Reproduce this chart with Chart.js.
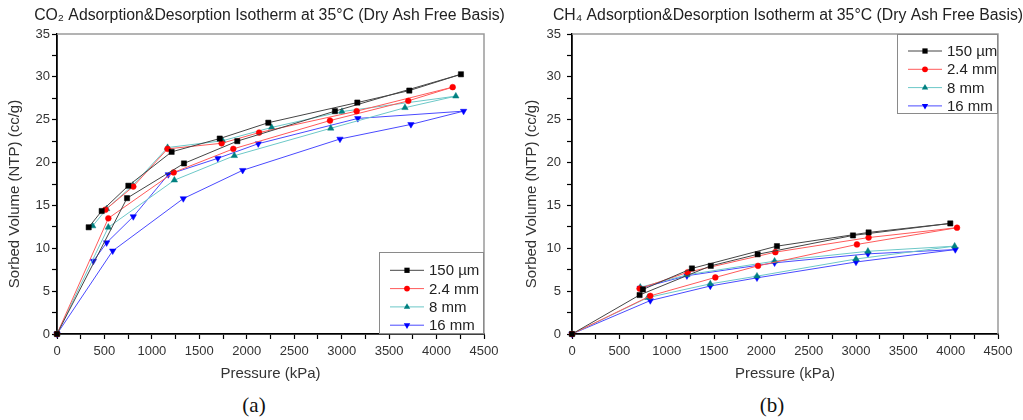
<!DOCTYPE html>
<html>
<head>
<meta charset="utf-8">
<script src="https://cdn.jsdelivr.net/npm/chart.js@4.4.1/dist/chart.umd.min.js"></script>
<style>
  body { margin: 0; background: #fff; width: 1023px; height: 420px; position: relative; overflow: hidden; }
  .panel { position: absolute; top: 0; }
  .cap { position: absolute; top: 393px; font-family: "Liberation Serif", "Times New Roman", serif; font-size: 21px; color: #111; transform: translateX(-50%); }
</style>
</head>
<body>
<div class="panel" style="left:0"><canvas id="co2Chart" width="512" height="390"></canvas></div>
<div class="panel" style="left:511px"><canvas id="ch4Chart" width="512" height="390"></canvas></div>
<div class="cap" style="left:254px">(a)</div>
<div class="cap" style="left:772px">(b)</div>
<script>
// sample names (legend)
const samples = ['150 µm', '2.4 mm', '8 mm', '16 mm'];

// CO2 - points in measuring order: adsorption up, then desorption down
const co2P_150 = [0, 738, 1338, 1900, 2929, 4257, 3713, 3165, 2227, 1715, 1208, 752, 471, 334];
const co2V_150 = [0, 15.85, 19.9, 22.5, 26.0, 30.3, 28.4, 27.0, 24.65, 22.8, 21.25, 17.3, 14.35, 12.45];
const co2P_2_4 = [0, 541, 1230, 1858, 2877, 3702, 4170, 3158, 2130, 1735, 1165, 804, 510];
const co2V_2_4 = [0, 13.5, 18.85, 21.6, 24.9, 27.2, 28.8, 26.0, 23.5, 22.25, 21.6, 17.2, 14.5];
const co2P_8 = [0, 541, 1237, 1869, 2885, 3667, 4203, 3003, 2262, 1746, 1165, 800, 523, 376];
const co2V_8 = [0, 12.45, 17.95, 20.8, 24.0, 26.4, 27.75, 25.95, 24.1, 22.55, 21.75, 17.35, 14.6, 12.6];
const co2P_16 = [0, 587, 1331, 1957, 2982, 3730, 4285, 3170, 2121, 1695, 1173, 804, 523, 383];
const co2V_16 = [0, 9.7, 15.8, 19.1, 22.75, 24.45, 26.0, 25.15, 22.2, 20.5, 18.6, 13.7, 10.65, 8.5];

// CH4
const ch4P_150 = [0, 714, 1466, 1961, 2968, 3996, 3133, 2165, 1267, 749];
const ch4V_150 = [0, 4.55, 7.95, 9.3, 11.5, 12.9, 11.85, 10.25, 7.65, 5.2];
const ch4P_2_4 = [0, 827, 1514, 1965, 3010, 4067, 3133, 2148, 1221, 714];
const ch4V_2_4 = [0, 4.45, 6.6, 7.95, 10.45, 12.4, 11.25, 9.55, 7.2, 5.3];
const ch4P_8 = [0, 802, 1461, 1954, 3000, 4042, 3126, 2140, 1214, 721];
const ch4V_8 = [0, 4.25, 5.85, 6.75, 8.75, 10.25, 9.65, 8.5, 6.9, 5.45];
const ch4P_16 = [0, 827, 1461, 1954, 3000, 4049, 3126, 2140, 1214, 721];
const ch4V_16 = [0, 3.9, 5.6, 6.55, 8.4, 9.85, 9.35, 8.3, 6.8, 5.35];

const lineColors = ['#454545', '#ff5a5a', '#6cc8c8', '#4a4aff'];
const markColors = ['#000000', '#ff0000', '#008080', '#0000ff'];
const markStyles = ['rect', 'circle', 'triangle', 'triangle'];
const markRot = [0, 0, 0, 180];
const FONT = 'Arial, "Liberation Sans", sans-serif';
const Y_TITLE = 'Sorbed Volume (NTP) (cc/g)';

function pts(px, vy) { return px.map((p, i) => ({x: p, y: vy[i]})); }

function makeSets(list) {
  return list.map((s, i) => ({
    label: samples[i],
    data: pts(s[0], s[1]),
    showLine: true,
    borderColor: lineColors[i],
    borderWidth: 1,
    pointStyle: markStyles[i],
    rotation: markRot[i],
    pointRadius: i == 1 ? 2.9 : 3.7,
    pointBackgroundColor: markColors[i],
    pointBorderColor: markColors[i],
    pointBorderWidth: 0.5,
    clip: false
  }));
}

function drawMark(ctx, style, rot, x, y, r, col) {
  ctx.save();
  ctx.fillStyle = col;
  ctx.translate(x, y);
  ctx.rotate(rot * Math.PI / 180);
  ctx.beginPath();
  if (style == 'rect') {
    const h = r * Math.SQRT1_2;
    ctx.rect(-h, -h, 2 * h, 2 * h);
  } else if (style == 'circle') {
    ctx.arc(0, 0, r, 0, Math.PI * 2);
  } else {
    ctx.moveTo(0, -r);
    ctx.lineTo(r * 0.866, r * 0.5);
    ctx.lineTo(-r * 0.866, r * 0.5);
    ctx.closePath();
  }
  ctx.fill();
  ctx.restore();
}

// title, y title, gray top/right frame + boxed legend with line and marker
const frameLegend = {
  id: 'frameLegend',
  afterDraw(chart, args, opts) {
    const ctx = chart.ctx, a = chart.chartArea;
    ctx.save();

    // titles
    ctx.fillStyle = '#222';
    ctx.font = '15.8px ' + FONT;
    ctx.textAlign = 'center';
    ctx.textBaseline = 'middle';
    ctx.fillText(opts.title, (a.left + a.right) / 2 + opts.titleDx, 16);
    ctx.save();
    ctx.fillStyle = '#333';
    ctx.font = '15px ' + FONT;
    ctx.translate(opts.yTitleX, 194);
    ctx.rotate(-Math.PI / 2);
    ctx.fillText(Y_TITLE, 0, 0);
    ctx.restore();

    ctx.strokeStyle = '#9a9a9a';
    ctx.lineWidth = 1.5;
    ctx.beginPath();
    ctx.moveTo(a.left, a.top);
    ctx.lineTo(a.right, a.top);
    ctx.lineTo(a.right, a.bottom);
    ctx.stroke();

    const w = opts.w, h = opts.h;
    const bx = a.right - w;
    const by = opts.anchor == 'bottom' ? a.bottom - h : a.top;
    ctx.fillStyle = '#fff';
    ctx.fillRect(bx, by, w, h);
    ctx.strokeStyle = '#8a8a8a';
    ctx.lineWidth = 1;
    ctx.strokeRect(bx + 0.5, by + 0.5, w - 1, h - 1);
    ctx.font = '15px ' + FONT;
    ctx.textAlign = 'left';
    ctx.textBaseline = 'middle';
    chart.data.datasets.forEach((ds, i) => {
      const y = by + opts.first + i * opts.row;
      ctx.strokeStyle = lineColors[i];
      ctx.lineWidth = 1;
      ctx.beginPath();
      ctx.moveTo(bx + 11, y);
      ctx.lineTo(bx + 45, y);
      ctx.stroke();
      drawMark(ctx, markStyles[i], markRot[i], bx + 28, y, i == 1 ? 2.9 : 3.7, markColors[i]);
      ctx.fillStyle = '#222';
      ctx.fillText(ds.label, bx + 50, y + 1);
    });
    ctx.restore();
  }
};

function makeChart(id, sets, yWidth, tickPad, padRight, legendOpts) {
  return new Chart(document.getElementById(id), {
    type: 'scatter',
    data: { datasets: makeSets(sets) },
    plugins: [frameLegend],
    options: {
      responsive: false,
      animation: false,
      devicePixelRatio: 1,
      layout: { padding: { left: 0, right: padRight, top: 34, bottom: 0 } },
      plugins: {
        legend: { display: false },
        tooltip: { enabled: false },
        title: { display: false },
        frameLegend: legendOpts
      },
      scales: {
        x: {
          type: 'linear',
          min: 0, max: 4500,
          afterFit(s) { s.height = 56; },
          ticks: {
            stepSize: 250, autoSkip: false, maxRotation: 0, padding: 5,
            color: '#333', font: { family: FONT, size: 13 },
            callback: v => v % 500 === 0 ? v : ''
          },
          grid: { drawOnChartArea: false, tickLength: 5, tickColor: '#000', tickWidth: 1.2 },
          border: { color: '#000', width: 1.8 },
          title: {
            display: true, text: 'Pressure (kPa)', color: '#333',
            font: { family: FONT, size: 15 }, padding: { top: 0, bottom: 7 }
          }
        },
        y: {
          min: 0, max: 35,
          afterFit(s) { s.width = yWidth; },
          ticks: {
            stepSize: 2.5, autoSkip: false, padding: tickPad,
            color: '#333', font: { family: FONT, size: 13 },
            callback: v => v % 5 === 0 ? v : ''
          },
          grid: { drawOnChartArea: false, tickLength: 5, tickColor: '#000', tickWidth: 1.2 },
          border: { color: '#000', width: 1.8 }
        }
      }
    }
  });
}

makeChart('co2Chart',
  [[co2P_150, co2V_150], [co2P_2_4, co2V_2_4], [co2P_8, co2V_8], [co2P_16, co2V_16]],
  57, 2, 28, { title: 'CO\u2082 Adsorption&Desorption Isotherm at 35°C (Dry Ash Free Basis)', titleDx: -1, yTitleX: 15,
    anchor: 'bottom', w: 105, h: 82, first: 18.3, row: 18.3 });

makeChart('ch4Chart',
  [[ch4P_150, ch4V_150], [ch4P_2_4, ch4V_2_4], [ch4P_8, ch4V_8], [ch4P_16, ch4V_16]],
  61, 6, 25, { title: 'CH\u2084 Adsorption&Desorption Isotherm at 35°C (Dry Ash Free Basis)', titleDx: 3, yTitleX: 20.5,
    anchor: 'top', w: 101, h: 80, first: 17, row: 18.3 });
</script>
</body>
</html>
